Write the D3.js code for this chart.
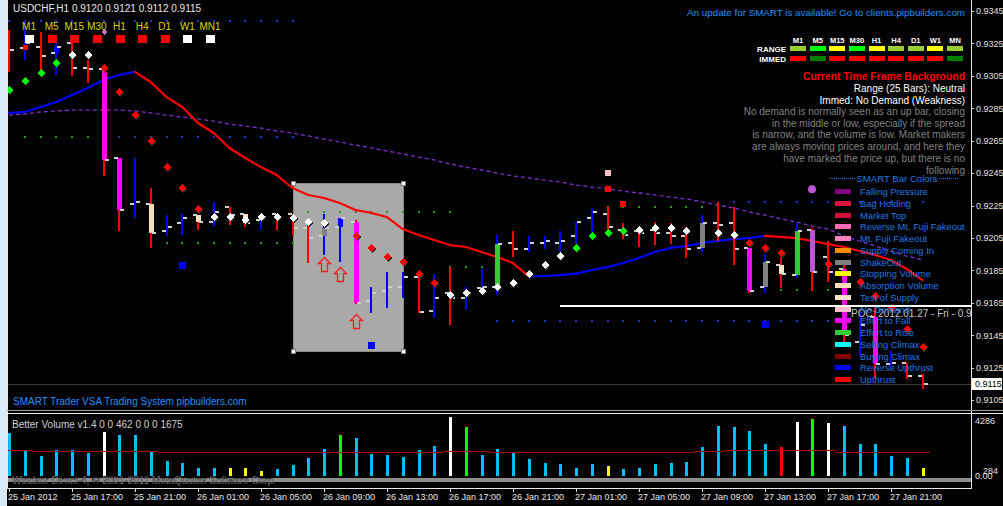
<!DOCTYPE html>
<html>
<head>
<meta charset="utf-8">
<script src="https://cdn.jsdelivr.net/npm/d3@7"></script>
<style>
  body { margin: 0; background: #000; }
  svg text { font-family: "Liberation Sans", Arial, sans-serif; }
</style>
</head>
<body>
<div id="chart"></div>
<script>
// ---- data (USDCHF H1, 25 Jan 13:00 .. 27 Jan 23:00) ----
const symbol = "USDCHF,H1";
const timeLabels = ["25 Jan 2012", "25 Jan 17:00", "25 Jan 21:00", "26 Jan 01:00", "26 Jan 05:00",
  "26 Jan 09:00", "26 Jan 13:00", "26 Jan 17:00", "26 Jan 21:00", "27 Jan 01:00", "27 Jan 05:00",
  "27 Jan 09:00", "27 Jan 13:00", "27 Jan 17:00", "27 Jan 21:00"];
const timeTickBars = [0, 4, 8, 12, 16, 20, 24, 28, 32, 36, 40, 44, 48, 52, 56];
const priceTicks = [0.9345, 0.9325, 0.9305, 0.9285, 0.9265, 0.9245, 0.9225, 0.9205, 0.9185, 0.9165, 0.9145, 0.9125, 0.9105];

const open = [0.9327,0.9322,0.9323,0.9319,0.9325,0.9310,0.9309,0.9254,0.9226,0.9226,
  0.9209,0.9214,0.9219,0.9215,0.9224,0.9220,0.9216,0.9220,0.9220,0.9211,
  0.9206,0.9212,0.9215,0.9166,0.9172,0.9175,0.9181,0.9160,0.9171,0.9168,
  0.9174,0.9175,0.9202,0.9198,0.9202,0.9202,0.9206,0.9217,0.9220,0.9210,
  0.9209,0.9210,0.9208,0.9206,0.9199,0.9214,0.9214,0.9199,0.9175,0.9188,
  0.9182,0.9210,0.9193,0.9186,0.9141,0.9156,0.9127,0.9128,0.9120];
const high = [0.9333,0.9339,0.9332,0.9325,0.9326,0.9315,0.9311,0.9254,0.9254,0.9236,
  0.9219,0.9220,0.9219,0.9227,0.9224,0.9220,0.9220,0.9220,0.9220,0.9215,
  0.9220,0.9217,0.9216,0.9175,0.9184,0.9184,0.9184,0.9183,0.9187,0.9175,
  0.9186,0.9207,0.9209,0.9206,0.9206,0.9209,0.9215,0.9223,0.9224,0.9214,
  0.9211,0.9215,0.9214,0.9212,0.9219,0.9227,0.9224,0.9199,0.9195,0.9193,
  0.9214,0.9211,0.9203,0.9189,0.9159,0.9162,0.9135,0.9128,0.9121];
const low = [0.9307,0.9315,0.9307,0.9305,0.9305,0.9301,0.9243,0.9209,0.9217,0.9199,
  0.9206,0.9207,0.9210,0.9212,0.9213,0.9212,0.9210,0.9210,0.9207,0.9190,
  0.9195,0.9190,0.9164,0.9159,0.9162,0.9168,0.9159,0.9156,0.9151,0.9161,
  0.9173,0.9170,0.9193,0.9196,0.9198,0.9196,0.9199,0.9208,0.9210,0.9204,
  0.9199,0.9201,0.9201,0.9193,0.9196,0.9203,0.9188,0.9171,0.9171,0.9174,
  0.9180,0.9172,0.9178,0.9138,0.9132,0.9119,0.9125,0.9118,0.9112];
const close = [0.9321,0.9325,0.9317,0.9323,0.9310,0.9309,0.9253,0.9222,0.9227,0.9208,
  0.9212,0.9217,0.9215,0.9221,0.9219,0.9214,0.9218,0.9217,0.9211,0.9205,
  0.9211,0.9217,0.9165,0.9171,0.9175,0.9181,0.9159,0.9168,0.9168,0.9171,
  0.9175,0.9201,0.9198,0.9202,0.9203,0.9203,0.9215,0.9221,0.9212,0.9207,
  0.9208,0.9208,0.9206,0.9198,0.9214,0.9213,0.9198,0.9172,0.9190,0.9183,
  0.9209,0.9184,0.9184,0.9145,0.9151,0.9127,0.9128,0.9120,0.9115];

// SMART bar colour signals
const signalBars  = [3, 6, 7, 9, 12, 15, 20, 21, 22, 31, 44, 47, 48, 49, 50, 51, 53, 55];
const signalNames = ["Reverse Upthrust", "Effort to Fall", "Effort to Fall", "Absorption Volume",
  "Test of Supply", "Test of Supply", "ShakeOut", "Reverse Upthrust", "Effort to Fall", "Effort to Rise",
  "ShakeOut", "Effort to Fall", "ShakeOut", "Test of Supply", "Effort to Rise", "Pressure",
  "Effort to Fall", "Effort to Fall"];

const legendNames = ["Falling Pressure", "Bag Holding", "Market Top", "Reverse Mt. Fuji Fakeout",
  "Mt. Fuji Fakeout", "Supply Coming In", "ShakeOut", "Stopping Volume", "Absorption Volume",
  "Test of Supply", "No Demand", "Effort to Fall", "Effort to Rise", "Selling Climax",
  "Buying Climax", "Reverse Upthrust", "Upthrust"];
const legendColors = ["#800080", "#dc143c", "#d0103a", "#ff69b4", "#ff80c0", "#ff8c00", "#808080",
  "#ffff00", "#f5deb3", "#ffe4c4", "#ffc0cb", "#ff00ff", "#32cd32", "#00ffff", "#800000",
  "#0000ff", "#ff0000"];

// trend diamonds (g = bullish, w = neutral, r = bearish)
const dotPrice = [0.9296,0.9302,0.9307,0.9313,0.9318,0.9318,0.9310,0.9295,0.9281,0.9265,
  0.9249,0.9236,0.9223,0.9218,0.9218,0.9216,0.9218,0.9218,0.9217,0.9215,
  0.9214,null,0.9206,0.9199,0.9193,0.9190,0.9183,0.9177,0.9170,0.9171,
  0.9172,0.9175,0.9177,0.9183,0.9188,0.9194,0.9199,0.9206,0.9208,0.9209,
  0.9210,0.9211,0.9211,0.9209,null,0.9208,0.9207,0.9202,0.9199,0.9196,
  null,null,0.9189,null,0.9178,0.9169,0.9162,0.9149,0.9138];
const dotKind = "ggggwwrrrrrrrwwwwwwww-rrrrrrwwwwwwwwggggwwww-wwrrr--r-rrrrr";

// moving averages
const fastMA = [0.92821,0.92827,0.92858,0.92889,0.92932,0.92975,0.93024,0.93055,0.93074,0.93012,
  0.92919,0.92858,0.92759,0.92697,0.92605,0.92543,0.92487,0.92438,0.92358,0.92315,
  0.92296,0.92265,0.92222,0.92204,0.92179,0.92105,0.92068,0.92037,0.92006,0.91994,
  0.91963,0.91932,0.91895,0.91812,0.91815,0.91820,0.91830,0.91852,0.91870,0.91895,
  0.91926,0.91963,0.91988,0.92000,0.92019,0.92031,0.92043,0.92049,0.92062,0.92056,
  0.92049,0.92031,0.92012,0.91994,0.91969,0.91945,0.91914,0.91858,0.91790];
const slowMA = [0.92808,0.92814,0.92827,0.92833,0.92839,0.92839,0.92839,0.92839,0.92833,0.92821,
  0.92808,0.92796,0.92784,0.92771,0.92753,0.92740,0.92728,0.92710,0.92697,0.92679,
  0.92660,0.92642,0.92623,0.92605,0.92586,0.92568,0.92549,0.92531,0.92506,0.92487,
  0.92469,0.92450,0.92432,0.92420,0.92407,0.92395,0.92376,0.92364,0.92352,0.92339,
  0.92327,0.92315,0.92302,0.92290,0.92272,0.92253,0.92235,0.92210,0.92191,0.92167,
  0.92148,0.92123,0.92105,0.92062,0.92031,0.92000,0.91969,0.91938,0.91914];

// dotted support / resistance levels
const levelPrice = [0.9339, 0.9267, 0.9267, 0.9202, 0.9221, 0.9187, 0.9154, 0.9224, 0.9227, 0.9173];
const levelFrom  = [0, 1, 7, 9, 19, 28, 31, 38, 46, 47];
const levelTo    = [18, 5, 18, 18, 28, 30, 52, 45, 58, 52];
const levelKind  = ["res", "sup", "res", "sup", "sup", "sup", "res", "sup", "res", "sup"];

// other markers
const squareBars  = [1, 38, 39, 38, 11, 23, 48];
const squarePrice = [0.9323, 0.9235, 0.9226, 0.9245, 0.9188, 0.9139, 0.9152];
const squareKind  = ["small", "red", "red", "pink", "blue", "blue", "blue"];
const arrowBars  = [20, 21, 22];
const arrowPrice = [0.9189, 0.9183, 0.9154];
const boxBars = [18, 25];
const boxPrice = [0.92383, 0.91352];
const pocBar = 35, pocPrice = 0.9163, pocLabel = "POC: 2012.01.27 - Fri - 0.9163";

// volume panel
const volume = [3270,1940,1530,1990,1990,1780,3390,3140,3140,1860,
  1150,1020,640,640,640,590,410,510,840,1400,
  2070,3140,2880,1660,1610,1480,1990,2300,4540,3770,
  1610,2040,1740,1300,970,890,640,890,790,540,
  640,890,970,1090,2240,3830,3720,3440,2450,2190,
  4150,4340,4030,3830,2450,2450,1550,1400,590];
const volKind = "nnnnnnwnnnnnnnyyynnnngnnnnnnwgnnnnnnnnynnnnnnnnnnrwgwnnnnny";
const volAvg = [1990,1990,1940,1940,1940,1940,1940,1940,1940,1940,
  1810,1810,1810,1810,1810,1810,1810,1810,1810,1810,
  1810,1810,1810,1810,1810,1810,1810,1810,1910,1910,
  1910,1810,1810,1810,1810,1810,1810,1810,1810,1810,
  1810,1810,1810,1810,1910,1910,1990,1990,1990,1990,
  1990,1990,1990,1860,1860,1860,1860,1860,1860];

// header panels
const tfNames = ["M1", "M5", "M15", "M30", "H1", "H4", "D1", "W1", "MN1"];
const tfState = ["flat", "down", "down", "down", "down", "down", "down", "flat", "flat"];
const gridCols = ["M1", "M5", "M15", "M30", "H1", "H4", "D1", "W1", "MN"];
const rangeState = ["weak", "strong", "neutral", "strong", "neutral", "weak", "weak", "neutral", "weak"];
const immedState = ["bear", "bull", "bear", "bear", "bear", "bear", "bear", "bear", "bull"];
const infoLines = ["No demand is normally seen as an up bar, closing",
  "in the middle or low, especially if the spread",
  "is narrow, and the volume is low. Market makers",
  "are always moving prices around, and here they",
  "have marked the price up, but there is no",
  "following"];

// ---- layout ----
const W = 1003, H = 506;
const plotL = 8, plotR = 971, plotB = 410;
const fmt = d3.format(".4f");

const svg = d3.select("#chart").append("svg")
  .attr("width", W).attr("height", H)
  .style("display", "block").style("background", "#000")
  .style("shape-rendering", "crispEdges");

const x = d3.scaleLinear().domain([0, 58]).range([9, 922.5]);
const y = d3.scaleLinear().domain([0.9105, 0.9345]).range([400, 11]);
const yv = d3.scaleLinear().domain([0, 4286]).range([476, 420]);
const X = i => Math.round(x(i));

const colorScale = d3.scaleOrdinal(legendNames.concat(["Pressure"]), legendColors.concat(["#ba55d3"]));

svg.append("defs").append("clipPath").attr("id", "plot")
  .append("rect").attr("x", plotL).attr("y", 0).attr("width", plotR - plotL).attr("height", plotB);

// window frame
svg.append("rect").attr("x", 0).attr("y", 0).attr("width", 7).attr("height", H).attr("fill", "#d8e9f7");
const frame = svg.append("g").attr("stroke", "#e8e8e8").attr("stroke-width", 1);
frame.append("line").attr("x1", 7.5).attr("x2", 7.5).attr("y1", 0).attr("y2", 488);
frame.append("line").attr("x1", plotR + 0.5).attr("x2", plotR + 0.5).attr("y1", 0).attr("y2", 488);
frame.append("line").attr("x1", 7).attr("x2", W).attr("y1", 410.5).attr("y2", 410.5).attr("stroke", "#a0a0a0");
frame.append("line").attr("x1", 7).attr("x2", W).attr("y1", 413.5).attr("y2", 413.5);
frame.append("line").attr("x1", 7).attr("x2", plotR + 1).attr("y1", 488.5).attr("y2", 488.5);

const plot = svg.append("g").attr("clip-path", "url(#plot)");

// grey selection box
const box = plot.append("g");
box.append("rect")
  .attr("x", X(boxBars[0])).attr("y", y(boxPrice[0]))
  .attr("width", X(boxBars[1]) - X(boxBars[0])).attr("height", y(boxPrice[1]) - y(boxPrice[0]))
  .attr("fill", "#a9a9a9").attr("stroke", "#8a8a8a");
[[0, 0], [1, 0], [0, 1], [1, 1]].forEach(([a, b]) => {
  box.append("rect").attr("x", X(boxBars[a]) - 2).attr("y", y(boxPrice[b]) - 2)
    .attr("width", 4).attr("height", 4).attr("fill", "#fff").attr("stroke", "#808080");
});

// dotted levels
levelPrice.forEach((p, k) => {
  plot.selectAll(null).data(d3.range(levelFrom[k], levelTo[k] + 1)).join("rect")
    .attr("x", i => X(i) - 1).attr("y", Math.round(y(p)) - 1)
    .attr("width", 2).attr("height", 2)
    .attr("fill", levelKind[k] === "sup" ? "#1f9a1f" : "#2030d0");
});

// moving averages
const idx = d3.range(open.length);
plot.append("path")
  .attr("d", d3.line().x(i => x(i)).y(i => y(slowMA[i]))(idx))
  .attr("fill", "none").attr("stroke", "#7a2fd0").attr("stroke-width", 1.3)
  .attr("stroke-dasharray", "4 3").style("shape-rendering", "auto");
idx.slice(0, -1).forEach(i => {
  plot.append("line")
    .attr("x1", x(i)).attr("y1", y(fastMA[i])).attr("x2", x(i + 1)).attr("y2", y(fastMA[i + 1]))
    .attr("stroke", fastMA[i + 1] >= fastMA[i] ? "#0000ff" : "#ff0000")
    .attr("stroke-width", 2.2).attr("stroke-linecap", "round").style("shape-rendering", "auto");
});
plot.append("line").attr("x1", plotL).attr("x2", x(0)).attr("y1", y(fastMA[0]) + 0.5).attr("y2", y(fastMA[0]))
  .attr("stroke", "#0000ff").attr("stroke-width", 2.2);

// current price line
plot.append("line").attr("x1", plotL).attr("x2", plotR)
  .attr("y1", Math.round(y(close[58])) + 0.5).attr("y2", Math.round(y(close[58])) + 0.5)
  .attr("stroke", "#3a3a3a");

// bars
const bars = plot.append("g");
idx.forEach(i => {
  const up = close[i] >= open[i];
  const xi = X(i);
  bars.append("rect").attr("x", xi - 1).attr("width", 2)
    .attr("y", Math.round(y(high[i]))).attr("height", Math.max(1, Math.round(y(low[i]) - y(high[i]))))
    .attr("fill", up ? "#0000ff" : "#ff0000");
  const s = signalBars.indexOf(i);
  if (s >= 0) {
    const top = Math.round(y(Math.max(open[i], close[i])));
    const bot = Math.round(y(Math.min(open[i], close[i])));
    bars.append("rect").attr("x", xi - 2).attr("width", 5).attr("y", top).attr("height", Math.max(2, bot - top))
      .attr("fill", colorScale(signalNames[s]));
  }
  bars.append("rect").attr("x", xi - 5).attr("width", 4).attr("y", Math.round(y(open[i])) - 1).attr("height", 2).attr("fill", "#d0d0d0");
  bars.append("rect").attr("x", xi + 1).attr("width", 4).attr("y", Math.round(y(close[i])) - 1).attr("height", 2).attr("fill", "#d0d0d0");
});

// diamonds
const diamond = "M0,-4L4,0L0,4L-4,0Z";
const dotColor = { g: "#00ff00", w: "#ffffff", r: "#ff0000" };
idx.filter(i => dotPrice[i] !== null).forEach(i => {
  const cx = X(i), cy = Math.round(y(dotPrice[i]));
  plot.append("path").attr("d", diamond).attr("transform", `translate(${cx + 1},${cy + 1})`).attr("fill", "#2a2a2a");
  plot.append("path").attr("d", diamond).attr("transform", `translate(${cx},${cy})`).attr("fill", dotColor[dotKind[i]]);
});
plot.append("path").attr("d", "M0,-3L3,0L0,3L-3,0Z").attr("transform", `translate(${X(6)},${Math.round(y(0.9332))})`).attr("fill", "#c070c0");

// squares
const sqStyle = { small: ["#ff0000", 5], red: ["#ff0000", 6], pink: ["#ffc0cb", 6], blue: ["#0000ff", 7] };
squareBars.forEach((b, k) => {
  const [c, s] = sqStyle[squareKind[k]];
  plot.append("rect").attr("x", X(b) - Math.floor(s / 2)).attr("y", Math.round(y(squarePrice[k])) - Math.floor(s / 2))
    .attr("width", s).attr("height", s).attr("fill", c);
});

// up arrows
arrowBars.forEach((b, k) => {
  plot.append("path").attr("d", "M0,-7L6,-1L3,-1L3,7L-3,7L-3,-1L-6,-1Z")
    .attr("transform", `translate(${X(b) + 0.5},${Math.round(y(arrowPrice[k])) + 0.5})`)
    .attr("fill", "none").attr("stroke", "#ff1a1a").attr("stroke-width", 1.3)
    .style("shape-rendering", "auto");
});

// purple circle
plot.append("circle").attr("cx", X(51)).attr("cy", y(0.9235)).attr("r", 4).attr("fill", "#ba55d3").style("shape-rendering", "auto");

// POC line
plot.append("rect").attr("x", X(pocBar)).attr("width", plotR - X(pocBar)).attr("y", Math.round(y(pocPrice)) - 1).attr("height", 2).attr("fill", "#ffffff");
plot.append("text").attr("x", 851).attr("y", Math.round(y(pocPrice)) + 11).attr("fill", "#c8c8c8").attr("font-size", 10).text(pocLabel);

// legend
const lg = svg.append("g");
const ly = d3.scalePoint().domain(legendNames).range([191, 379]);
lg.append("text").attr("x", 897).attr("y", 182).attr("text-anchor", "middle").attr("fill", "#1e78e6").attr("font-size", 9.6).text("SMART Bar Colors");
[[830, 856], [939, 958]].forEach(([a, b]) => lg.append("line").attr("x1", a).attr("x2", b).attr("y1", 178.5).attr("y2", 178.5)
  .attr("stroke", "#1e78e6").attr("stroke-dasharray", "1 1"));
legendNames.forEach((n, k) => {
  lg.append("rect").attr("x", 835).attr("width", 16).attr("y", Math.round(ly(n)) - 2).attr("height", 5).attr("fill", legendColors[k]);
  lg.append("text").attr("x", 860).attr("y", ly(n) + 4).attr("fill", "#1e78e6").attr("font-size", 9.4).text(n);
});

// top-right info panel
const info = svg.append("g").attr("text-anchor", "end").attr("font-size", 10);
info.append("text").attr("x", 965).attr("y", 16).attr("fill", "#1e90ff").attr("font-size", 9.8).text("An update for SMART is available! Go to clients.pipbuilders.com");
const gx = d3.scalePoint().domain(gridCols).range([798, 955]);
const rangeColor = { weak: "#9acd32", strong: "#00ff00", neutral: "#ffff00" };
const immedColor = { bear: "#ff0000", bull: "#008000" };
gridCols.forEach((c, k) => {
  svg.append("text").attr("x", gx(c)).attr("y", 43).attr("text-anchor", "middle").attr("fill", "#fff")
    .attr("font-size", 7.5).attr("font-weight", "bold").text(c);
  svg.append("rect").attr("x", gx(c) - 8).attr("width", 16).attr("y", 46).attr("height", 5).attr("fill", rangeColor[rangeState[k]]);
  svg.append("rect").attr("x", gx(c) - 8).attr("width", 16).attr("y", 56).attr("height", 5).attr("fill", immedColor[immedState[k]]);
});
info.append("text").attr("x", 786).attr("y", 52).attr("fill", "#fff").attr("font-size", 8).attr("font-weight", "bold").text("RANGE");
info.append("text").attr("x", 786).attr("y", 62).attr("fill", "#fff").attr("font-size", 8).attr("font-weight", "bold").text("IMMED");
info.append("text").attr("x", 965).attr("y", 80).attr("fill", "#ff0000").attr("font-weight", "bold").attr("font-size", 10.4).text("Current Time Frame Background");
info.append("text").attr("x", 965).attr("y", 92).attr("fill", "#fff").text("Range (25 Bars): Neutral");
info.append("text").attr("x", 965).attr("y", 104).attr("fill", "#fff").text("Immed: No Demand (Weakness)");
infoLines.forEach((t, k) => info.append("text").attr("x", 965).attr("y", 115 + k * 11.7).attr("fill", "#808080").text(t));

// top-left header
svg.append("text").attr("x", 13).attr("y", 12).attr("fill", "#e8e8e8").attr("font-size", 10)
  .text(`${symbol}  ${fmt(open[58])} ${fmt(high[58])} ${fmt(low[58])} ${fmt(close[58])}`);
const tx = d3.scalePoint().domain(tfNames).range([29, 210]);
tfNames.forEach((t, k) => {
  svg.append("text").attr("x", tx(t)).attr("y", 30).attr("text-anchor", "middle").attr("fill", "#d8d800").attr("font-size", 10).text(t);
  svg.append("rect").attr("x", tx(t) - 4).attr("y", 35).attr("width", 9).attr("height", 8)
    .attr("fill", tfState[k] === "flat" ? "#ffffff" : "#ff0000");
});
svg.append("text").attr("x", 13).attr("y", 405).attr("fill", "#1e90ff").attr("font-size", 10)
  .text("SMART Trader VSA Trading System pipbuilders.com");

// price axis
const pa = svg.append("g").attr("transform", `translate(${plotR},0)`)
  .call(d3.axisRight(y).tickValues(priceTicks).tickFormat(fmt).tickSize(3).tickPadding(2));
pa.select(".domain").remove();
pa.selectAll("line").attr("stroke", "#e0e0e0");
pa.selectAll("text").attr("fill", "#e0e0e0").attr("font-size", 9).attr("font-family", "Liberation Sans, Arial, sans-serif");
const cy = Math.round(y(close[58]));
svg.append("rect").attr("x", 972).attr("y", cy - 6).attr("width", 30).attr("height", 12).attr("fill", "#fff");
svg.append("text").attr("x", 975).attr("y", cy + 3).attr("fill", "#000").attr("font-size", 9).text(fmt(close[58]));

// volume panel
const vp = svg.append("g");
vp.append("rect").attr("x", plotL).attr("y", 478).attr("width", plotR - plotL).attr("height", 4).attr("fill", "#8c8c8c");
const volColor = { n: "#00bfff", w: "#ffffff", y: "#ffff00", g: "#00ff00", r: "#ff0000" };
vp.selectAll(null).data(idx).join("rect")
  .attr("x", i => X(i) - 1).attr("width", 3)
  .attr("y", i => Math.round(yv(volume[i]))).attr("height", i => yv(0) - Math.round(yv(volume[i])))
  .attr("fill", i => volColor[volKind[i]]);
vp.append("path")
  .attr("d", d3.line().curve(d3.curveStepAfter).x(i => i === 0 ? plotL : x(i - 0.5)).y(i => Math.round(yv(volAvg[Math.min(i, 58)])) + 0.5)(idx.concat([59])))
  .attr("fill", "none").attr("stroke", "#a00000");
vp.append("text").attr("x", 12).attr("y", 428).attr("fill", "#d0d0d0").attr("font-size", 10).text("Better Volume v1.4 0 0 462 0 0 0 1675");
vp.append("text").attr("x", 12).attr("y", 484).attr("fill", "#d8d8d8").attr("stroke", "#000").attr("stroke-width", 0.4)
  .attr("font-size", 10).text("Windsor Direct-4, \u00a9 2001-2011 MetaQuotes Software Corp.");
vp.append("text").attr("x", 975).attr("y", 424).attr("fill", "#e0e0e0").attr("font-size", 9).text("4286");
vp.append("text").attr("x", 983).attr("y", 474).attr("fill", "#e0e0e0").attr("font-size", 9).text("284");
vp.append("text").attr("x", 975).attr("y", 479).attr("fill", "#e0e0e0").attr("font-size", 9).text("0.00");

// time axis
const ta = svg.append("g").attr("transform", "translate(0,488)")
  .call(d3.axisBottom(x).tickValues(timeTickBars).tickFormat((d, k) => timeLabels[k]).tickSize(4).tickPadding(2));
ta.select(".domain").remove();
ta.selectAll("line").attr("stroke", "#e0e0e0");
ta.selectAll(".tick").attr("transform", d => `translate(${X(d) + 0.5},0)`);
ta.selectAll("text").attr("fill", "#e8e8e8").attr("font-size", 9).attr("text-anchor", "start").attr("x", -1.5)
  .attr("font-family", "Liberation Sans, Arial, sans-serif");
</script>
</body>
</html>
